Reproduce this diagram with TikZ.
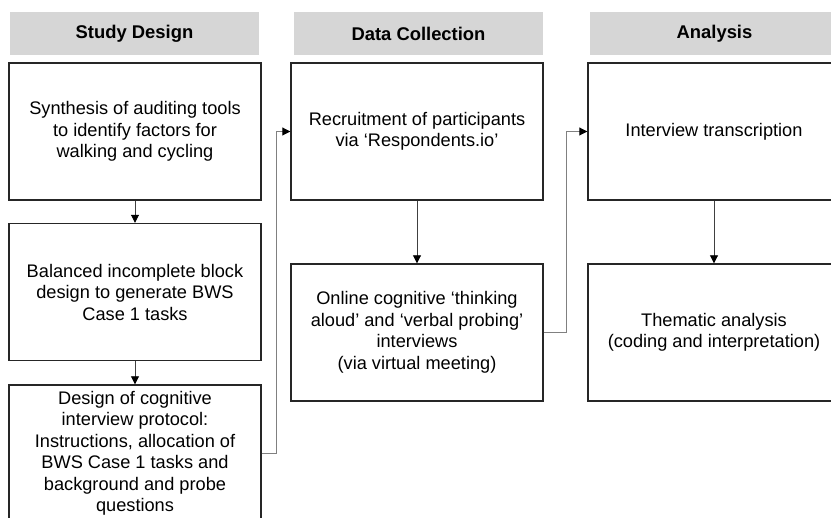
\documentclass[tikz,border=0pt]{standalone}
\usepackage{fontspec}
\setmainfont{Liberation Sans}
\usetikzlibrary{positioning, calc, arrows.meta}

\begin{document}
\begin{tikzpicture}
        [x=1pt, y=-1pt,
        box/.style={draw=black!85, line width=1.4pt, minimum width=252pt, minimum height=137pt, inner sep=0pt, align=center, font=\fontsize{18.2}{21.5}\selectfont},
        header/.style={fill=black!16, minimum width=249pt, minimum height=43pt, inner sep=0pt, font=\fontsize{18.4}{21}\selectfont\bfseries},
        down/.style={draw=black!75, line width=0.9pt, -{Triangle[length=8pt, width=8pt, color=black]}},
        link/.style={draw=black!50, line width=0.9pt, -{Triangle[length=8pt, width=8pt, color=black]}}]
        \useasboundingbox (0,0) rectangle (831,518);
        \clip (0,0) rectangle (831,518);
            %intestazioni
            \node[header] (hdesign) at (134.5,33.5) {Study Design};
            \node[header] (hdata) at (418.5,33.5) {Data Collection};
            \node[header] (hanalysis) at (714.5,33.5) {Analysis};
            %colonna study design
            \node[box] (synth) at (135,131.5) {Synthesis of auditing tools\\to identify factors for\\walking and cycling};
            \node[box] (block) at (135,292) {Balanced incomplete block\\design to generate BWS\\Case 1 tasks};
            \node[box] (protocol) at (135,453.5) {Design of cognitive\\interview protocol:\\Instructions, allocation of\\BWS Case 1 tasks and\\background and probe\\questions};
            %colonna data collection
            \node[box] (recruit) at (417,131.5) {Recruitment of participants\\via `Respondents.io'};
            \node[box] (interviews) at (417,332.5) {Online cognitive `thinking\\aloud' and `verbal probing'\\interviews\\(via virtual meeting)};
            %colonna analysis
            \node[box] (transcr) at (714,131.5) {Interview transcription};
            \node[box] (thematic) at (714,332.5) {Thematic analysis\\(coding and interpretation)};
            %frecce verticali
            \draw[down] (synth) -- (block);
            \draw[down] (block) -- (protocol);
            \draw[down] (recruit) -- (interviews);
            \draw[down] (transcr) -- (thematic);
            %collegamenti tra colonne
            \draw[link] (protocol.east) -- ++(15,0) |- (recruit.west);
            \draw[link] (interviews.east) -- ++(23,0) |- (transcr.west);
    \end{tikzpicture}
\end{document}
